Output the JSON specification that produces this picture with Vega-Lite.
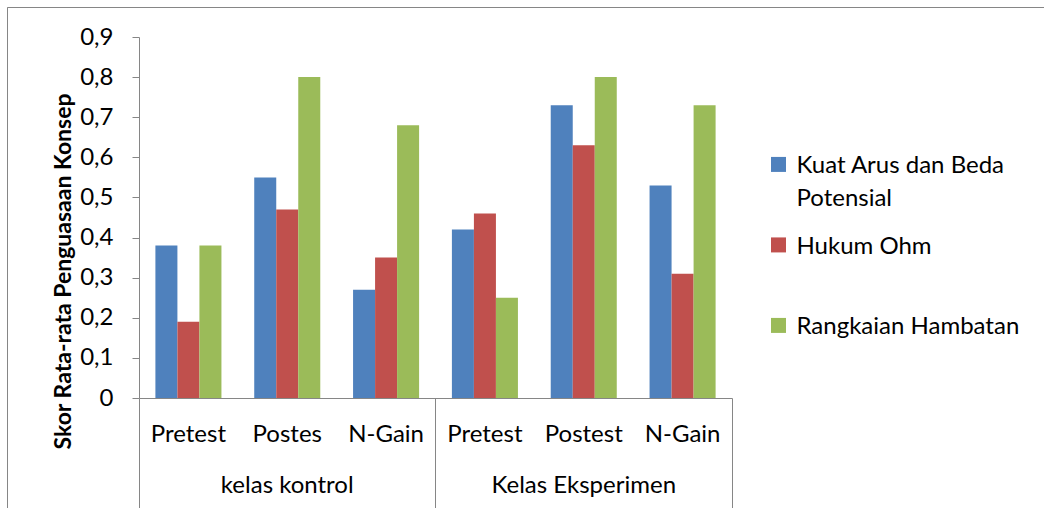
{
  "$schema": "https://vega.github.io/schema/vega-lite/v6.json",
  "width": 1037,
  "height": 501,
  "autosize": {"type": "none"},
  "padding": {"left": 7, "top": 7, "right": 0, "bottom": 0},
  "background": "white",
  "view": {"stroke": "#868686", "strokeWidth": 1, "strokeDash": [1037, 1538, 501]},
  "config": {
    "font": "Lato",
    "style": {"guide-label": {"lineHeight": 33}},
    "axis": {"grid": false, "labelFont": "Lato", "labelColor": "#000000", "titleColor": "#000000", "domainColor": "#868686", "tickColor": "#868686"}
  },
  "title": {"text": "bar 1.", "anchor": "start", "frame": "group", "fontSize": 24, "font": "Lato", "fontWeight": "normal", "baseline": "alphabetic", "offset": 2, "dx": -7, "color": "#000000"},
  "data": {
    "values": [
      {"kelas": "kelas kontrol", "tes": "Pretest", "kategori": "kelas kontrol | Pretest", "materi": "Kuat Arus dan Beda Potensial", "skor": 0.38},
      {"kelas": "kelas kontrol", "tes": "Pretest", "kategori": "kelas kontrol | Pretest", "materi": "Hukum Ohm", "skor": 0.19},
      {"kelas": "kelas kontrol", "tes": "Pretest", "kategori": "kelas kontrol | Pretest", "materi": "Rangkaian Hambatan", "skor": 0.38},
      {"kelas": "kelas kontrol", "tes": "Postes", "kategori": "kelas kontrol | Postes", "materi": "Kuat Arus dan Beda Potensial", "skor": 0.55},
      {"kelas": "kelas kontrol", "tes": "Postes", "kategori": "kelas kontrol | Postes", "materi": "Hukum Ohm", "skor": 0.47},
      {"kelas": "kelas kontrol", "tes": "Postes", "kategori": "kelas kontrol | Postes", "materi": "Rangkaian Hambatan", "skor": 0.80},
      {"kelas": "kelas kontrol", "tes": "N-Gain", "kategori": "kelas kontrol | N-Gain", "materi": "Kuat Arus dan Beda Potensial", "skor": 0.27},
      {"kelas": "kelas kontrol", "tes": "N-Gain", "kategori": "kelas kontrol | N-Gain", "materi": "Hukum Ohm", "skor": 0.35},
      {"kelas": "kelas kontrol", "tes": "N-Gain", "kategori": "kelas kontrol | N-Gain", "materi": "Rangkaian Hambatan", "skor": 0.68},
      {"kelas": "Kelas Eksperimen", "tes": "Pretest", "kategori": "Kelas Eksperimen | Pretest", "materi": "Kuat Arus dan Beda Potensial", "skor": 0.42},
      {"kelas": "Kelas Eksperimen", "tes": "Pretest", "kategori": "Kelas Eksperimen | Pretest", "materi": "Hukum Ohm", "skor": 0.46},
      {"kelas": "Kelas Eksperimen", "tes": "Pretest", "kategori": "Kelas Eksperimen | Pretest", "materi": "Rangkaian Hambatan", "skor": 0.25},
      {"kelas": "Kelas Eksperimen", "tes": "Postest", "kategori": "Kelas Eksperimen | Postest", "materi": "Kuat Arus dan Beda Potensial", "skor": 0.73},
      {"kelas": "Kelas Eksperimen", "tes": "Postest", "kategori": "Kelas Eksperimen | Postest", "materi": "Hukum Ohm", "skor": 0.63},
      {"kelas": "Kelas Eksperimen", "tes": "Postest", "kategori": "Kelas Eksperimen | Postest", "materi": "Rangkaian Hambatan", "skor": 0.80},
      {"kelas": "Kelas Eksperimen", "tes": "N-Gain", "kategori": "Kelas Eksperimen | N-Gain", "materi": "Kuat Arus dan Beda Potensial", "skor": 0.53},
      {"kelas": "Kelas Eksperimen", "tes": "N-Gain", "kategori": "Kelas Eksperimen | N-Gain", "materi": "Hukum Ohm", "skor": 0.31},
      {"kelas": "Kelas Eksperimen", "tes": "N-Gain", "kategori": "Kelas Eksperimen | N-Gain", "materi": "Rangkaian Hambatan", "skor": 0.73}
    ]
  },
  "layer": [
    {
      "mark": {"type": "bar"},
      "encoding": {
        "x": {
          "field": "kategori", "type": "nominal",
          "scale": {
            "domain": ["kelas kontrol | Pretest", "kelas kontrol | Postes", "kelas kontrol | N-Gain", "Kelas Eksperimen | Pretest", "Kelas Eksperimen | Postest", "Kelas Eksperimen | N-Gain"],
            "range": [132, 725], "paddingInner": 0, "paddingOuter": 0
          },
          "axis": {
            "orient": "bottom", "offset": -110, "title": null, "labelAngle": 0,
            "labelFontSize": 24, "labelLineHeight": 51, "labelPadding": 24, "labelLimit": 400,
            "ticks": false, "tickSize": 0, "domain": true, "domainColor": "#868686",
            "labelExpr": "split(datum.label, ' | ')[1] == 'Postes' || split(datum.label, ' | ')[1] == 'Postest' ? [split(datum.label, ' | ')[1], split(datum.label, ' | ')[0]] : split(datum.label, ' | ')[1]"
          }
        },
        "xOffset": {
          "field": "materi", "type": "nominal",
          "scale": {"domain": ["Kuat Arus dan Beda Potensial", "Hukum Ohm", "Rangkaian Hambatan"], "paddingInner": 0, "paddingOuter": 0.745}
        },
        "y": {
          "field": "skor", "type": "quantitative",
          "scale": {"domain": [0, 0.9], "range": [391, 30], "nice": false},
          "axis": {
            "title": "Skor Rata-rata Penguasaan Konsep", "offset": -132,
            "values": [0, 0.1, 0.2, 0.3, 0.4, 0.5, 0.6, 0.7, 0.8, 0.9],
            "labelExpr": "datum.value == 0 ? '0' : replace(format(datum.value, '.1f'), '.', ',')",
            "tickSize": 7, "labelPadding": 19, "labelFontSize": 24,
            "titleFont": "Lato", "titleFontSize": 23, "titleFontWeight": "bold", "titlePadding": 4, "titleY": 264
          }
        },
        "color": {
          "field": "materi", "type": "nominal",
          "scale": {"domain": ["Kuat Arus dan Beda Potensial", "Hukum Ohm", "Rangkaian Hambatan"], "range": ["#4F81BD", "#C0504D", "#9BBB59"]},
          "legend": {
            "orient": "none", "legendX": 759.5, "legendY": 135, "title": null,
            "symbolType": "M-1,0.39H1V2.39H-1Z", "symbolSize": 225, "symbolStrokeWidth": 0,
            "labelFont": "Lato", "labelFontSize": 24, "labelBaseline": "top", "labelLimit": 400, "labelOffset": 6, "labelColor": "#000000",
            "labelExpr": "datum.label == 'Kuat Arus dan Beda Potensial' ? ['Kuat Arus dan Beda', 'Potensial'] : datum.label",
            "rowPadding": 11.5, "gridAlign": "all", "padding": 0
          }
        }
      }
    },
    {
      "mark": {"type": "point", "opacity": 0},
      "encoding": {
        "x": {
          "field": "kategori", "type": "nominal",
          "axis": {"orient": "bottom", "offset": -110, "title": null, "values": ["kelas kontrol | Pretest", "Kelas Eksperimen | Pretest"], "bandPosition": 0, "labels": false, "domain": false, "ticks": true, "tickSize": 110, "tickColor": "#868686"}
        }
      }
    },
    {
      "mark": {"type": "point", "opacity": 0},
      "encoding": {
        "x": {
          "field": "kategori", "type": "nominal",
          "axis": {"orient": "bottom", "offset": -110, "title": null, "values": ["Kelas Eksperimen | N-Gain"], "bandPosition": 1, "labels": false, "domain": false, "ticks": true, "tickSize": 110, "tickColor": "#868686"}
        }
      }
    }
  ],
  "resolve": {"axis": {"x": "independent"}}
}
